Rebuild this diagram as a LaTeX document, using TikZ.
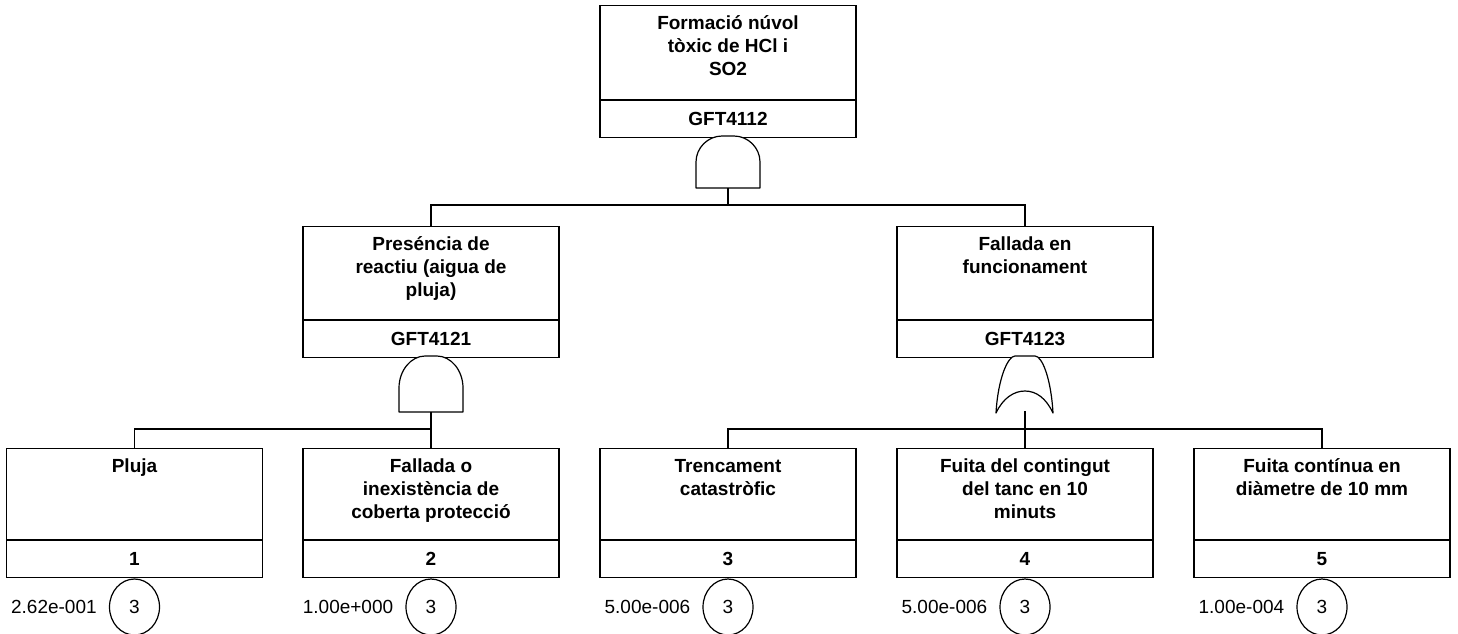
\documentclass[tikz,border=0pt]{standalone}
\usepackage{fontspec}
\setmainfont{Liberation Sans}
\usetikzlibrary{shapes.geometric,calc}
\tikzset{
  ln/.style={line width=1.2pt},
  titlecell/.style={draw, ln, minimum width=256pt, inner sep=0pt, anchor=north},
  labcell/.style={draw, ln, minimum width=256pt, minimum height=37pt, inner sep=0pt, anchor=north,
    font=\fontsize{19}{23}\selectfont\bfseries},
  titletext/.style={inner sep=0pt, anchor=north, align=center, font=\fontsize{19}{23}\selectfont\bfseries},
  evcircle/.style={draw, ln, ellipse, minimum width=50pt, minimum height=56pt, inner sep=0pt,
    font=\fontsize{19}{23}\selectfont},
  probtext/.style={inner sep=0pt, anchor=east, font=\fontsize{19}{23}\selectfont},
  gate/.style={draw, ln, fill=white, line join=round},
  conn/.style={draw, ln}
}
\newcommand{\ftbox}[6]{%
  \node[titlecell, minimum height=#4pt] (#1) at (#2,#3) {};
  \node[labcell] (#1lab) at (#1.south) {#6};
  \node[titletext] (#1txt) at ($(#1.north)+(0,7)$) {\rule{0pt}{17pt}#5};
}
\newcommand{\andgate}[4]{% cx, top, height, dome height
  \draw[gate] (#1-32,#2+#3) -- (#1-32,#2+#4)
    .. controls (#1-32,#2+0.45*#4) and (#1-20,#2) .. (#1-6,#2) -- (#1+6,#2)
    .. controls (#1+20,#2) and (#1+32,#2+0.45*#4) .. (#1+32,#2+#4) -- (#1+32,#2+#3) -- cycle;
}
\begin{document}
\begin{tikzpicture}[x=1pt,y=-1pt]
\useasboundingbox (0,0) rectangle (1458,633);

% boxes
\ftbox{top}{728}{5}{94}{Formació núvol\\tòxic de HCl i\\SO2}{GFT4112}
\ftbox{m1}{431}{226}{93}{Preséncia de\\reactiu (aigua de\\pluja)}{GFT4121}
\ftbox{m2}{1025}{226}{93}{Fallada en\\funcionament}{GFT4123}
\ftbox{b1}{134.5}{448}{91}{Pluja}{1}
\ftbox{b2}{431}{448}{91}{Fallada o\\inexistència de\\coberta protecció}{2}
\ftbox{b3}{728}{448}{91}{Trencament\\catastròfic}{3}
\ftbox{b4}{1025}{448}{91}{Fuita del contingut\\del tanc en 10\\minuts}{4}
\ftbox{b5}{1322}{448}{91}{Fuita contínua en\\diàmetre de 10 mm}{5}

% gates
\andgate{728}{136}{52}{26}
\andgate{431}{356}{56}{32}
\draw[gate] (996,413) .. controls (998,378) and (1008,356) .. (1015,356) -- (1035,356)
  .. controls (1042,356) and (1051,378) .. (1053,413)
  .. controls (1046,398) and (1036,391) .. (1025,391)
  .. controls (1014,391) and (1003,398) .. (996,413) -- cycle;

% connector points
\coordinate (g0) at (728,188);
\coordinate (j0) at (728,205);
\coordinate (g1) at (431,412);
\coordinate (j1) at (431,429);
\coordinate (g2) at (1025,411);
\coordinate (j2) at (1025,429);

\draw[conn] (g0) -- (j0);
\draw[conn] (j0) -| (m1.north);
\draw[conn] (j0) -| (m2.north);
\draw[conn] (g1) -- (j1);
\draw[conn] (j1) -| (b1.north);
\draw[conn] (j1) -| (b2.north);
\draw[conn] (g2) -- (j2);
\draw[conn] (j2) -| (b3.north);
\draw[conn] (j2) -- (b4.north);
\draw[conn] (j2) -| (b5.north);

% basic event circles and probabilities
\foreach \b/\p in {b1/2.62e-001, b2/1.00e+000, b3/5.00e-006, b4/5.00e-006, b5/1.00e-004}{
  \node[evcircle, anchor=north] (\b c) at (\b lab.south) {3};
  \node[probtext] (\b p) at ($(\b c.west)+(-12,0)$) {\p};
}
\end{tikzpicture}
\end{document}
